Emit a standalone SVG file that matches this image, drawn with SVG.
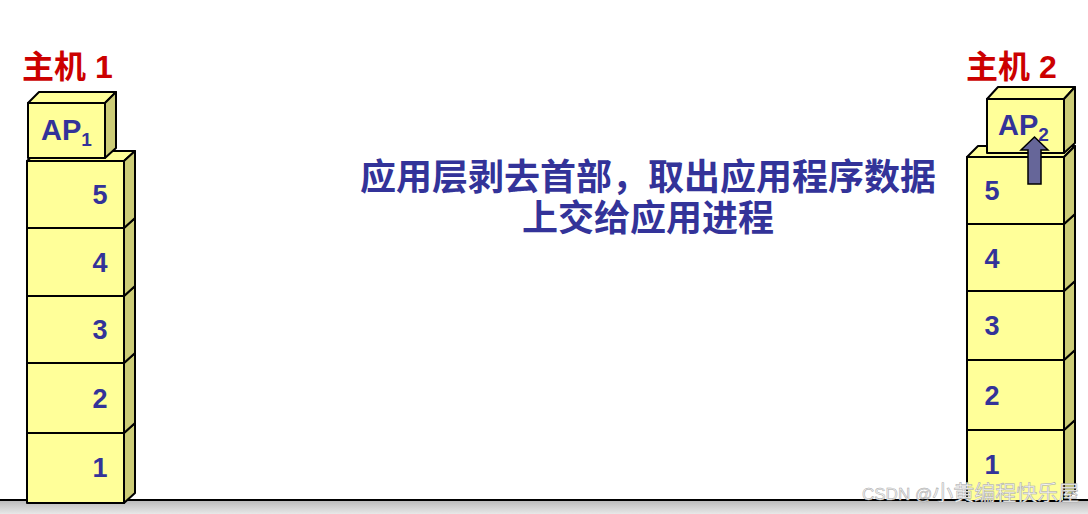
<svg xmlns="http://www.w3.org/2000/svg" width="1088" height="514" viewBox="0 0 1088 514">
<defs>
<linearGradient id="floor" x1="0" y1="0" x2="0" y2="1">
<stop offset="0" stop-color="#b8b8b8"/>
<stop offset="1" stop-color="#e8e8e8"/>
</linearGradient>
<style>
.front{fill:#ffff99;stroke:#000;stroke-width:2;stroke-linejoin:round}
.side{fill:#cccc77;stroke:#000;stroke-width:2;stroke-linejoin:round}
.top{fill:#ffff99;stroke:#000;stroke-width:2;stroke-linejoin:round}
.num{font-family:"Liberation Sans",Arial,sans-serif;font-weight:bold;font-size:27px;fill:#333399;text-anchor:middle}
.ap{font-family:"Liberation Sans",Arial,sans-serif;font-weight:bold;font-size:29px;fill:#333399}
.host{font-family:"Liberation Sans","Noto Sans CJK SC",sans-serif;font-weight:bold;font-size:32px;fill:#cc0000}
.cap{font-family:"Noto Sans CJK SC","Liberation Sans",sans-serif;font-weight:bold;font-size:36px;fill:#333399;text-anchor:middle}
.wm{font-family:"Liberation Sans","Noto Sans CJK SC",sans-serif;fill:#f4f4f4;stroke:#a6a6a6;stroke-width:0.5}
</style>
</defs>
<rect width="1088" height="514" fill="#fff"/>
<g id="floor">
<rect x="0" y="500" width="1088" height="14" fill="url(#floor)"/>
<line x1="0" y1="500" x2="1088" y2="500" stroke="#000" stroke-width="2"/>
</g>
<text class="host" x="22" y="78">主机 1</text>
<text class="host" x="966" y="78">主机 2</text>
<g id="host1-layer1">
<polygon class="side" points="124,433 135,423 135,493 124,503"/>
<rect class="front" x="27" y="433" width="97" height="70"/>
<text class="num" x="100" y="477">1</text>
</g>
<g id="host1-layer2">
<polygon class="side" points="124,363 135,353 135,423 124,433"/>
<rect class="front" x="27" y="363" width="97" height="70"/>
<text class="num" x="100" y="408">2</text>
</g>
<g id="host1-layer3">
<polygon class="side" points="124,296 135,286 135,353 124,363"/>
<rect class="front" x="27" y="296" width="97" height="67"/>
<text class="num" x="100" y="339">3</text>
</g>
<g id="host1-layer4">
<polygon class="side" points="124,228 135,218 135,286 124,296"/>
<rect class="front" x="27" y="228" width="97" height="68"/>
<text class="num" x="100" y="272">4</text>
</g>
<g id="host1-layer5">
<polygon class="top" points="27,161 38,151 135,151 124,161"/>
<polygon class="side" points="124,161 135,151 135,218 124,228"/>
<rect class="front" x="27" y="161" width="97" height="67"/>
<text class="num" x="100" y="204">5</text>
</g>
<g id="host1-ap">
<polygon class="top" points="28,103 39,92 116,92 105,103"/>
<polygon class="side" points="105,103 116,92 116,148 105,158"/>
<rect class="front" x="28" y="103" width="77" height="55"/>
<text class="ap" x="41" y="140">AP<tspan font-size="19" dy="6">1</tspan></text>
</g>
<g id="host2-layer1">
<polygon class="side" points="1064,430 1075,420 1075,491 1064,501"/>
<rect class="front" x="967" y="430" width="97" height="71"/>
<text class="num" x="992" y="474">1</text>
</g>
<g id="host2-layer2">
<polygon class="side" points="1064,360 1075,350 1075,420 1064,430"/>
<rect class="front" x="967" y="360" width="97" height="70"/>
<text class="num" x="992" y="405">2</text>
</g>
<g id="host2-layer3">
<polygon class="side" points="1064,291 1075,281 1075,350 1064,360"/>
<rect class="front" x="967" y="291" width="97" height="69"/>
<text class="num" x="992" y="335">3</text>
</g>
<g id="host2-layer4">
<polygon class="side" points="1064,224 1075,214 1075,281 1064,291"/>
<rect class="front" x="967" y="224" width="97" height="67"/>
<text class="num" x="992" y="268">4</text>
</g>
<g id="host2-layer5">
<polygon class="top" points="967,157 978,146 1075,146 1064,157"/>
<polygon class="side" points="1064,157 1075,146 1075,214 1064,224"/>
<rect class="front" x="967" y="157" width="97" height="67"/>
<text class="num" x="992" y="200">5</text>
</g>
<g id="host2-ap">
<polygon class="top" points="987,99 998,87 1075,87 1064,99"/>
<polygon class="side" points="1064,99 1075,87 1075,143 1064,153"/>
<rect class="front" x="987" y="99" width="77" height="54"/>
<text class="ap" x="998" y="135">AP<tspan font-size="19" dy="6">2</tspan></text>
</g>
<g id="connectors">
<polygon points="1028,184 1028,150 1021,150 1034.5,137 1048,150 1041,150 1041,184" fill="#666699" stroke="#000" stroke-width="1.5" stroke-linejoin="miter"/>
</g>
<g id="caption">
<text class="cap" x="648" y="190"><tspan x="648" y="190">应用层剥去首部，取出应用程序数据</tspan><tspan x="648" y="231">上交给应用进程</tspan></text>
</g>
<text class="wm" x="862" y="500"><tspan font-size="17">CSDN @</tspan><tspan font-size="21">小黄编程快乐屋</tspan></text>
</svg>
